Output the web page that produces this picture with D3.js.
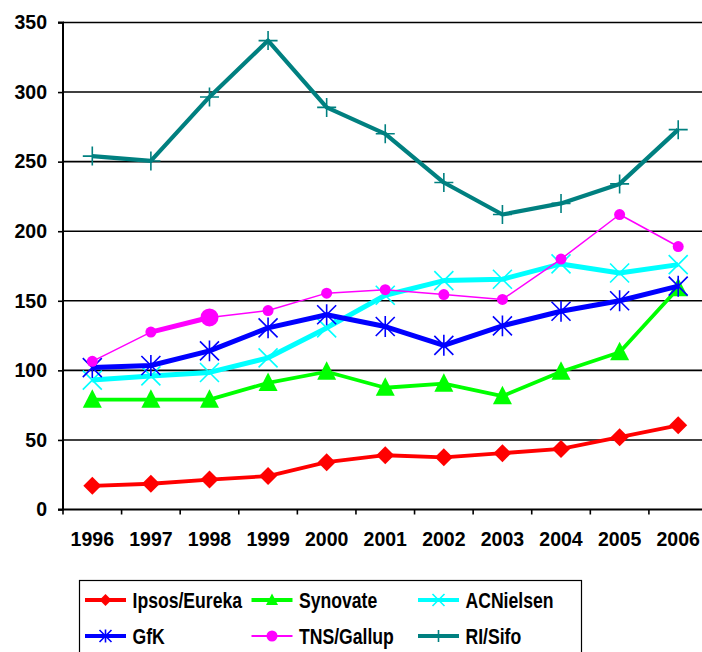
<!DOCTYPE html>
<html>
<head>
<meta charset="utf-8">
<script src="https://cdn.jsdelivr.net/npm/d3@7"></script>
<style>
  body { margin: 0; background: #fff; }
  svg { display: block; font-family: "Liberation Sans", Arial, sans-serif; }
  .tick text { font-weight: bold; font-size: 19.5px; fill: #000; }
  .legend text { font-weight: bold; font-size: 22px; }
</style>
</head>
<body>
<div id="chart"></div>
<script>
var years = [1996, 1997, 1998, 1999, 2000, 2001, 2002, 2003, 2004, 2005, 2006];
var yTicks = [0, 50, 100, 150, 200, 250, 300, 350];

var ipsos     = [17, 18.5, 21.5, 24, 34, 39, 37.5, 40.5, 43.5, 52, 60.5];
var synovate  = [79, 79, 79, 91, 99, 87.5, 90.5, 81.5, 99, 113, 159];
var acnielsen = [93, 96, 98.5, 109, 130.5, 154, 164.5, 165.5, 176.5, 170, 176];
var gfk       = [102, 103.5, 114, 130.5, 140, 131.5, 118, 132, 142.5, 150, 160.5];
var tns       = [106.5, 127.5, 138, 143, 155.5, 158, 154.5, 151, 180, 212, 189];
var sifo      = [254, 250.5, 296.5, 337, 289, 270, 235, 212, 220, 234, 273];

var seriesNames = ["Ipsos/Eureka", "Synovate", "ACNielsen", "GfK", "TNS/Gallup", "RI/Sifo"];
var seriesValues = [ipsos, synovate, acnielsen, gfk, tns, sifo];
var seriesColors = ["#ff0000", "#00ff00", "#00ffff", "#0000ff", "#ff00ff", "#008080"];
var seriesWidths = [3.8, 3.8, 5, 5, 1.5, 4.2];
var seriesMarkers = ["diamond", "triangle", "x", "star", "circle", "plus"];

var W = 702, H = 652;
var svg = d3.select("#chart").append("svg")
  .attr("width", W)
  .attr("height", H);

var x = d3.scaleBand().domain(years).range([63, 707.5]);
var y = d3.scaleLinear().domain([0, 350]).range([509.5, 22.5]);
var cx = function(i) { return x(years[i]) + x.bandwidth() / 2; };

// marker shapes, r = half size
function markerPath(type, r) {
  var p = d3.path();
  if (type == "diamond") {
    p.moveTo(0, -r); p.lineTo(r, 0); p.lineTo(0, r); p.lineTo(-r, 0); p.closePath();
  } else if (type == "triangle") {
    p.moveTo(0, -r * 1.1); p.lineTo(r, r * 0.85); p.lineTo(-r, r * 0.85); p.closePath();
  } else if (type == "x") {
    p.moveTo(-r, -r); p.lineTo(r, r); p.moveTo(-r, r); p.lineTo(r, -r);
  } else if (type == "star") {
    p.moveTo(-r, -r); p.lineTo(r, r); p.moveTo(-r, r); p.lineTo(r, -r);
    p.moveTo(0, -r * 1.1); p.lineTo(0, r * 1.1);
  } else if (type == "plus") {
    p.moveTo(-r, 0); p.lineTo(r, 0); p.moveTo(0, -r); p.lineTo(0, r);
  } else if (type == "circle") {
    p.arc(0, 0, r, 0, Math.PI * 2);
  }
  return p.toString();
}
var filled = { diamond: true, triangle: true, circle: true };

function drawMarker(g, type, color, r) {
  g.append("path")
    .attr("d", markerPath(type, r))
    .attr("fill", filled[type] ? color : "none")
    .attr("stroke", color)
    .attr("stroke-width", filled[type] ? 0 : 1.6);
}

// gridlines
svg.append("g").selectAll("line")
  .data(yTicks.slice(1))
  .enter().append("line")
  .attr("x1", 63).attr("x2", W)
  .attr("y1", function(d) { return y(d); })
  .attr("y2", function(d) { return y(d); })
  .attr("stroke", "#000")
  .attr("stroke-width", 1.6);

// axes
var yAxis = svg.append("g")
  .attr("transform", "translate(63,0)")
  .call(d3.axisLeft(y).tickValues(yTicks).tickSize(5).tickPadding(11));
var xAxis = svg.append("g")
  .attr("transform", "translate(0," + y(0) + ")")
  .call(d3.axisBottom(x).tickSize(0).tickPadding(22.5));

// x ticks sit on the band edges
xAxis.selectAll(".edge")
  .data(d3.range(years.length + 1))
  .enter().append("line")
  .attr("class", "edge")
  .attr("x1", function(i) { return 63 + i * x.bandwidth(); })
  .attr("x2", function(i) { return 63 + i * x.bandwidth(); })
  .attr("y1", 0).attr("y2", 5)
  .attr("stroke", "#000").attr("stroke-width", 1.6);

svg.selectAll(".domain").attr("stroke", "#000").attr("stroke-width", 2);
yAxis.selectAll(".tick line").attr("stroke-width", 1.6);
yAxis.select(".domain").attr("d", "M-5," + y(350) + "H0V" + y(0) + "H-5");
xAxis.select(".domain").attr("d", "M63,0H" + W);

// series
var line = d3.line()
  .x(function(d, i) { return cx(i); })
  .y(function(d) { return y(d); });

seriesValues.forEach(function(vals, s) {
  var g = svg.append("g");
  g.append("path")
    .datum(vals)
    .attr("d", line)
    .attr("fill", "none")
    .attr("stroke", seriesColors[s])
    .attr("stroke-width", seriesWidths[s])
    .attr("stroke-linejoin", "round");

  if (s == 4) {
    // highlighted segment 1997-1998 on TNS/Gallup
    g.append("line")
      .attr("x1", cx(1)).attr("y1", y(vals[1]))
      .attr("x2", cx(2)).attr("y2", y(vals[2]))
      .attr("stroke", seriesColors[s])
      .attr("stroke-width", 5);
  }

  vals.forEach(function(v, i) {
    var r = 9.5;
    if (seriesMarkers[s] == "circle") r = (s == 4 && i == 2) ? 9 : 5.5;
    if (seriesMarkers[s] == "diamond") r = 9;
    var m = g.append("g").attr("transform", "translate(" + cx(i) + "," + y(v) + ")");
    drawMarker(m, seriesMarkers[s], seriesColors[s], r);
  });
});

// legend
var legend = svg.append("g").attr("class", "legend");
legend.append("rect")
  .attr("x", 79.5).attr("y", 580.5)
  .attr("width", 502).attr("height", 90)
  .attr("fill", "#fff")
  .attr("stroke", "#000").attr("stroke-width", 1.2);

var colX = [85, 251.5, 418];
var rowY = [600, 636];
seriesNames.forEach(function(name, s) {
  var lx = colX[s % 3], ly = rowY[Math.floor(s / 3)];
  var item = legend.append("g");
  item.append("line")
    .attr("x1", lx).attr("x2", lx + 41)
    .attr("y1", ly).attr("y2", ly)
    .attr("stroke", seriesColors[s])
    .attr("stroke-width", s == 4 ? 2 : 4);
  var m = item.append("g").attr("transform", "translate(" + (lx + 20.5) + "," + ly + ")");
  drawMarker(m, seriesMarkers[s], seriesColors[s], seriesMarkers[s] == "circle" ? 5.5 : 6);
  item.append("text")
    .attr("transform", "translate(" + (lx + 47.5) + "," + (ly + 8) + ") scale(0.8,1)")
    .text(name);
});
</script>
</body>
</html>
